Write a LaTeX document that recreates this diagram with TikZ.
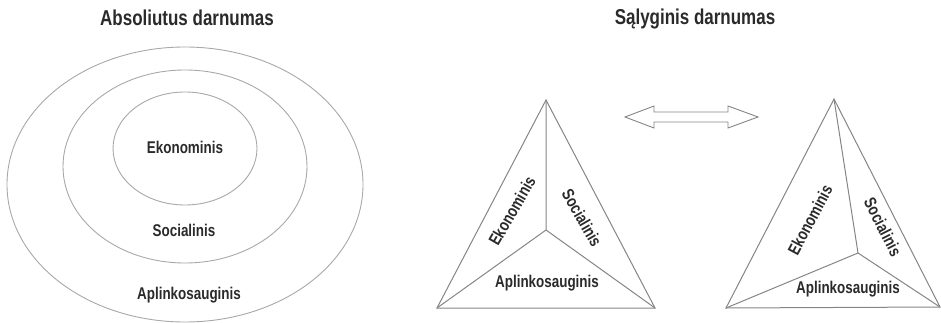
\documentclass[tikz,border=0pt]{standalone}
\usepackage{fontspec}
\setmainfont{Liberation Sans}[FakeStretch=0.79]
\usetikzlibrary{shapes.geometric}
\definecolor{txt}{HTML}{2A2A2A}
\definecolor{ell}{HTML}{A8A8A8}
\definecolor{tri}{HTML}{858585}
\begin{document}
\begin{tikzpicture}[x=1pt,y=-1pt,
  title/.style={font=\bfseries\fontsize{21.5}{23}\selectfont,text=txt,inner sep=0},
  lab/.style={font=\bfseries\fontsize{17}{19}\selectfont,text=txt,inner sep=0},
  ring/.style={draw=ell,line width=0.9pt},
  edge/.style={draw=tri,line width=1pt,line join=miter},
  arrowshape/.style={draw=tri,line width=0.9pt,line join=miter}]
\useasboundingbox (0,0) rectangle (941,323);
% titles
\node[title] (t1) at (187,18) {Absoliutus darnumas};
\node[title] (t2) at (695,19) {Sąlyginis darnumas};
% ellipses
\node[ring,ellipse,minimum width=356,minimum height=275,inner sep=0] (e3) at (185,184.5) {};
\node[ring,ellipse,minimum width=244,minimum height=193,inner sep=0] (e2) at (185,166.5) {};
\node[ring,ellipse,minimum width=144,minimum height=113,inner sep=0] (e1) at (185,148.5) {};
\node[lab] (l1) at (185,147) {Ekonominis};
\node[lab] (l2) at (184,230) {Socialinis};
\node[lab] (l3) at (189,295) {Aplinkosauginis};
% triangle 1
\coordinate (a1) at (546,100);
\coordinate (b1) at (437,308);
\coordinate (c1) at (655,308);
\coordinate (m1) at (546,230);
\draw[edge] (a1) -- (b1) -- (c1) -- cycle;
\draw[edge] (a1) -- (m1) (b1) -- (m1) -- (c1);
\node[lab,rotate=60] (k1) at (512,211) {Ekonominis};
\node[lab,rotate=-60] (s1) at (582,218) {Socialinis};
\node[lab] (p1) at (547,283) {Aplinkosauginis};
% triangle 2
\coordinate (a2) at (834,99);
\coordinate (b2) at (726,308);
\coordinate (c2) at (940,307);
\coordinate (m2) at (858,253);
\draw[edge] (a2) -- (b2) -- (c2) -- cycle;
\draw[edge] (a2) -- (m2) (b2) -- (m2) -- (c2);
\node[lab,rotate=62] (k2) at (810,220) {Ekonominis};
\node[lab,rotate=-63] (s2) at (883,227) {Socialinis};
\node[lab] (p2) at (848,289) {Aplinkosauginis};
% double arrow
\draw[arrowshape] (625,117) -- (654,106) -- (654,112) -- (728,112) -- (728,106)
  -- (758,117) -- (728,128) -- (728,122) -- (654,122) -- (654,128) -- cycle;
\end{tikzpicture}
\end{document}
